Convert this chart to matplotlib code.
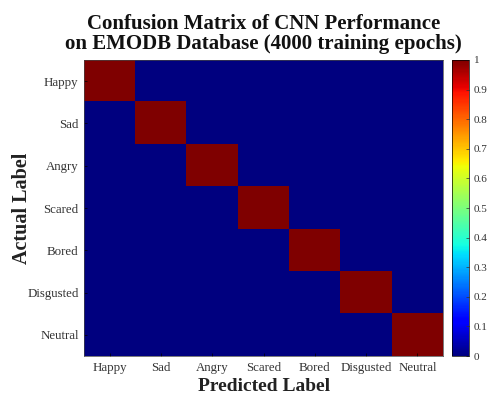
import numpy as np
import matplotlib.pyplot as plt

# class labels and confusion matrix (all predictions correct)
labels = ["Happy", "Sad", "Angry", "Scared", "Bored", "Disgusted", "Neutral"]
conf = np.eye(len(labels))
cbar_ticks = [0, 0.1, 0.2, 0.3, 0.4, 0.5, 0.6, 0.7, 0.8, 0.9, 1]

plt.rcParams['font.family'] = ['Liberation Serif', 'DejaVu Serif']

fig = plt.figure(figsize=(4.95, 3.97), dpi=100)
ax = fig.add_axes([0.170, 0.103, 0.725, 0.746])
cax = fig.add_axes([0.913, 0.103, 0.034, 0.746])

im = ax.imshow(conf, cmap='jet', vmin=0, vmax=1, aspect='auto', interpolation='nearest')

ax.set_xticks(range(len(labels)))
ax.set_xticklabels(labels, fontsize=9.3, color='#333333')
ax.set_yticks(range(len(labels)))
ax.set_yticklabels(labels, fontsize=9.3, color='#333333')
ax.tick_params(length=2, width=0.5, direction='in', pad=4)
for s in ax.spines.values():
    s.set_linewidth(0.5)
    s.set_color('#444444')

ax.set_xlabel("Predicted Label", fontsize=14, fontweight='bold', color='#222222')
ax.set_ylabel("Actual Label", fontsize=14.5, fontweight='bold', color='#222222')
ax.yaxis.set_label_coords(-0.145, 0.5)
ax.xaxis.set_label_coords(0.5, -0.075)
ax.set_title("Confusion Matrix of CNN Performance\non EMODB Database (4000 training epochs)",
             fontsize=15, fontweight='bold', color='#111111', pad=8, linespacing=1.0)

cb = fig.colorbar(im, cax=cax, ticks=cbar_ticks)
cb.ax.set_yticklabels([f"{t:g}" for t in cbar_ticks])
cb.ax.tick_params(labelsize=8, length=2, width=0.5, direction='in', colors='#333333')
cb.outline.set_linewidth(0.5)

fig.savefig("out.png", dpi=100)
